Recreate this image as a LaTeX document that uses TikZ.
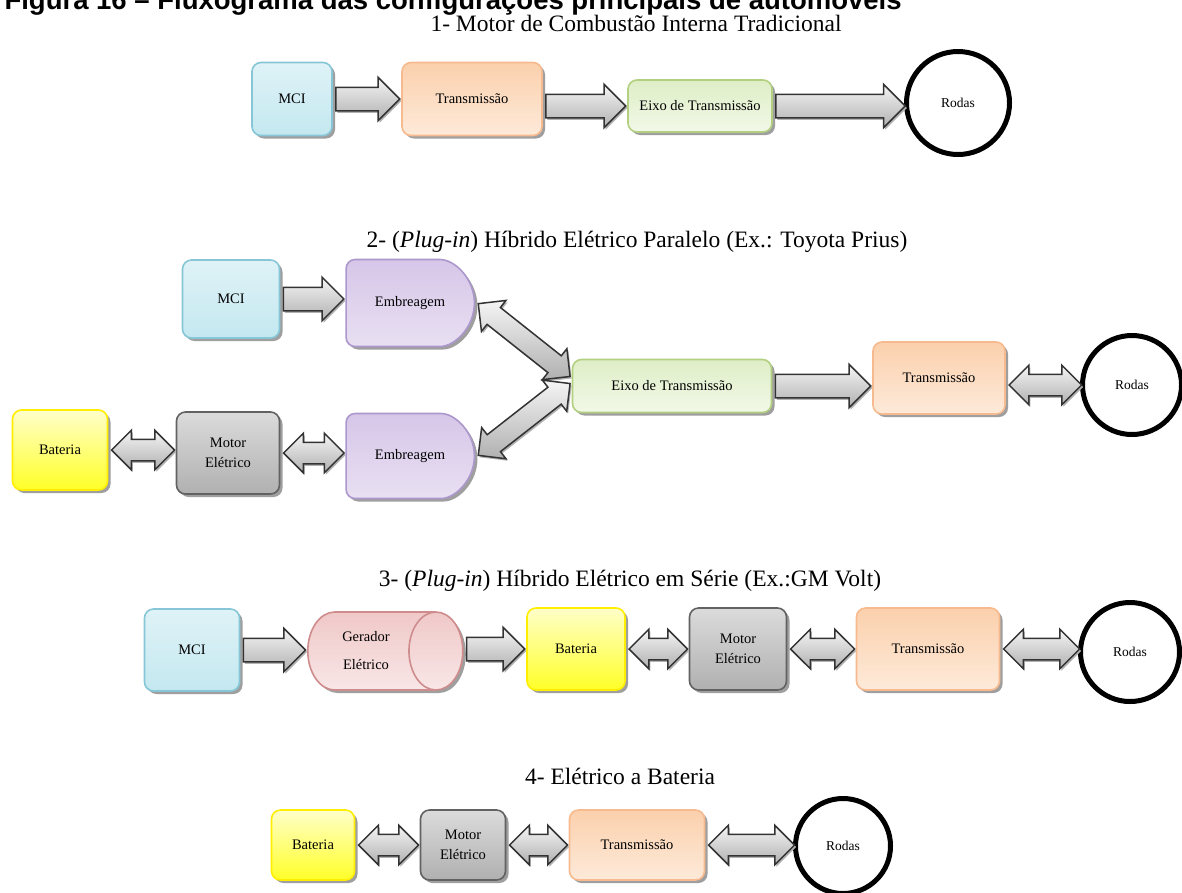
\documentclass[tikz,border=0pt]{standalone}
\usepackage{fontspec}
\setmainfont{Liberation Serif}
\newfontfamily\titulofont{Liberation Sans}
\usetikzlibrary{shapes.arrows,shapes.geometric,shapes.misc,shadows,calc}

\definecolor{azulB}{RGB}{135,198,214}
\definecolor{azulF}{RGB}{196,232,240}
\definecolor{laranjaB}{RGB}{246,186,142}
\definecolor{laranjaF}{RGB}{251,208,172}
\definecolor{verdeB}{RGB}{178,208,128}
\definecolor{verdeF}{RGB}{222,238,198}
\definecolor{amareloB}{RGB}{255,238,0}
\definecolor{amareloF}{RGB}{255,255,40}
\definecolor{cinzaB}{RGB}{98,98,98}
\definecolor{roxoB}{RGB}{172,152,204}
\definecolor{roxoF}{RGB}{214,198,232}
\definecolor{rosaB}{RGB}{206,140,140}
\definecolor{rosaF}{RGB}{240,200,200}

\tikzset{
	sombra/.style={drop shadow={shadow xshift=3pt, shadow yshift=-3pt, fill=gray!75, opacity=1}},
	caixa/.style={rectangle, rounded corners=9pt, line width=1.6pt, align=center, outer sep=3pt, sombra, font=\fontsize{14.5}{20}\selectfont},
	mci/.style={caixa, draw=azulB, top color=azulF!55, bottom color=azulF},
	transm/.style={caixa, draw=laranjaB, top color=laranjaF, bottom color=laranjaF!45},
	eixo/.style={caixa, draw=verdeB, top color=verdeF, bottom color=verdeF!40},
	bateria/.style={caixa, draw=amareloB, top color=amareloF!25, bottom color=amareloF},
	motor/.style={caixa, draw=cinzaB, top color=gray!28, bottom color=gray!62},
	embreagem/.style={caixa, rounded rectangle, rounded rectangle left arc=none, draw=roxoB, top color=roxoF, bottom color=roxoF!55},
	gerador/.style={cylinder, shape aspect=1.2, line width=1.6pt, draw=rosaB, top color=rosaF, bottom color=rosaF!45, outer sep=3pt, align=center, sombra, font=\fontsize{14.5}{28}\selectfont},
	roda/.style={circle, draw=black, line width=5pt, fill=white, outer sep=2pt, font=\fontsize{13.5}{15}\selectfont},
	titulo/.style={anchor=base, font=\fontsize{23.5}{26}\selectfont},
	seta/.style={single arrow, anchor=tail, draw=gray!40!black, line width=1.5pt, top color=gray!8, bottom color=gray!62, single arrow head extend=10pt, single arrow head indent=0pt, inner xsep=0pt, inner ysep=11pt, drop shadow={shadow xshift=1.5pt, shadow yshift=-2pt, fill=gray!60, opacity=1}},
	setadupla/.style={seta, double arrow, anchor=tip 2, double arrow head extend=9pt, double arrow head indent=0pt, inner ysep=10pt}
}

\newcommand{\ligar}[3][seta]{%
	\path let \p1=(#2), \p2=(#3), \n1={atan2(\y2-\y1,\x2-\x1)}, \n2={veclen(\x2-\x1,\y2-\y1)}
		in node[#1, minimum height=\n2, rotate=\n1] at (\p1) {};}

\begin{document}
\begin{tikzpicture}[x=1pt, y=-1pt]
	\useasboundingbox [fill=white] (0,0) rectangle (1182,892);
	\node (tit0) at (1,9) [anchor=base west, font=\titulofont\bfseries\fontsize{27.5}{30}\selectfont] {Figura 16 – Fluxograma das configurações principais de automóveis};

	\node (tit1) at (636,31) [titulo] {1- Motor de Combustão Interna Tradicional};
	\node (mci1) at (292,99) [mci, minimum width=80, minimum height=73] {MCI};
	\node (trans1) at (472,99) [transm, minimum width=140, minimum height=73] {Transmissão};
	\node (eixo1) at (700,106) [eixo, minimum width=144, minimum height=52] {Eixo de Transmissão};
	\node (rodas1) at (958,103) [roda, minimum size=103] {Rodas};
	\ligar{mci1.east}{mci1.east -| trans1.west}
	\ligar{trans1.east |- eixo1.west}{eixo1.west}
	\ligar{eixo1.east}{eixo1.east -| rodas1.west}

	\node (tit2) at (637,247) [titulo] {2- (\textit{Plug-in}) Híbrido Elétrico Paralelo (Ex.: Toyota Prius)};
	\node (mci2) at (231,299) [mci, minimum width=97, minimum height=78] {MCI};
	\node (emb1) at (410,303) [embreagem, minimum width=135, minimum height=87] {Embreagem};
	\node (bat2) at (60,450) [bateria, minimum width=95, minimum height=80] {Bateria};
	\node (motor2) at (228,453) [motor, minimum width=103, minimum height=82] {Motor\\Elétrico};
	\node (emb2) at (410,456) [embreagem, minimum width=135, minimum height=85] {Embreagem};
	\node (eixo2) at (672,386) [eixo, minimum width=199, minimum height=53] {Eixo de Transmissão};
	\node (trans2) at (939,378) [transm, minimum width=132, minimum height=72] {Transmissão};
	\node (rodas2) at (1132,385) [roda, minimum size=99] {Rodas};
	\ligar{mci2.east}{mci2.east -| emb1.west}
	\ligar[setadupla]{bat2.east}{bat2.east -| motor2.west}
	\ligar[setadupla]{motor2.east}{motor2.east -| emb2.west}
	\ligar[setadupla]{emb1.east}{[yshift=10pt]eixo2.west}
	\ligar[setadupla]{emb2.east}{[yshift=2pt]eixo2.west}
	\ligar{eixo2.east}{eixo2.east -| trans2.west}
	\ligar[setadupla]{rodas2.west -| trans2.east}{rodas2.west}

	\node (tit3) at (630,586) [titulo] {3- (\textit{Plug-in}) Híbrido Elétrico em Série (Ex.:GM Volt)};
	\node (mci3) at (192,650) [mci, minimum width=95, minimum height=82] {MCI};
	\node (ger3) at (366,651) [gerador, minimum width=78, minimum height=155] {Gerador\\Elétrico};
	\node (bat3) at (576,649) [bateria, minimum width=98, minimum height=82] {Bateria};
	\node (motor3) at (738,649) [motor, minimum width=97, minimum height=82] {Motor\\Elétrico};
	\node (trans3) at (928,649) [transm, minimum width=143, minimum height=82] {Transmissão};
	\node (rodas3) at (1130,652) [roda, minimum size=99] {Rodas};
	\ligar{mci3.east}{mci3.east -| ger3.west}
	\ligar{ger3.east |- bat3.west}{bat3.west}
	\ligar[setadupla]{bat3.east}{bat3.east -| motor3.west}
	\ligar[setadupla]{motor3.east}{motor3.east -| trans3.west}
	\ligar[setadupla]{trans3.east}{trans3.east -| rodas3.west}

	\node (tit4) at (620,784) [titulo] {4- Elétrico a Bateria};
	\node (bat4) at (313,845) [bateria, minimum width=83, minimum height=70] {Bateria};
	\node (motor4) at (463,845) [motor, minimum width=85, minimum height=70] {Motor\\Elétrico};
	\node (trans4) at (637,845) [transm, minimum width=135, minimum height=70] {Transmissão};
	\node (rodas4) at (843,846) [roda, minimum size=95] {Rodas};
	\ligar[setadupla]{bat4.east}{bat4.east -| motor4.west}
	\ligar[setadupla]{motor4.east}{motor4.east -| trans4.west}
	\ligar[setadupla]{trans4.east}{trans4.east -| rodas4.west}
\end{tikzpicture}
\end{document}
